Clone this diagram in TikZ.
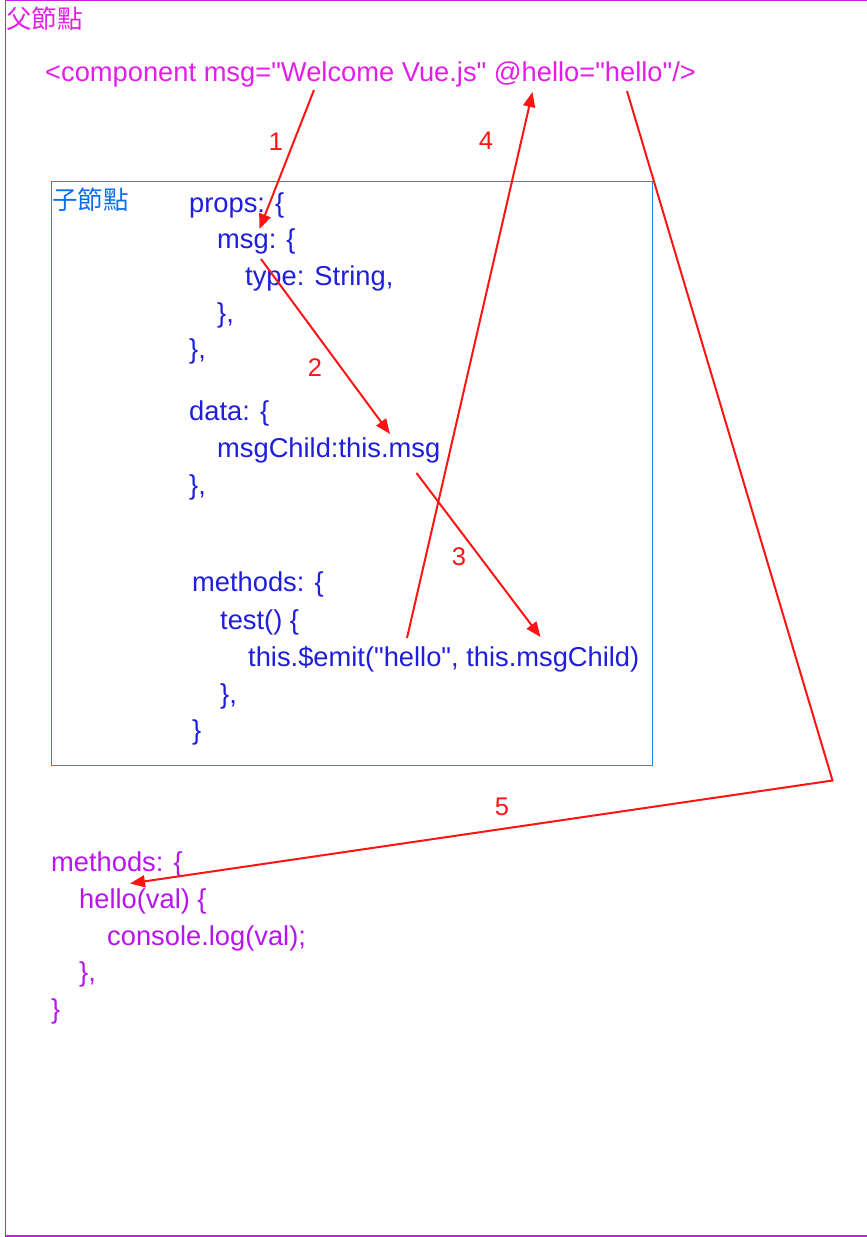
\documentclass[tikz,border=0pt]{standalone}
\usepackage{fontspec}
\setmainfont{Liberation Sans}
\newfontfamily\cjk{Noto Sans CJK TC}
\usetikzlibrary{arrows.meta}

\definecolor{framepurple}{RGB}{200,30,225}
\definecolor{parentpink}{RGB}{228,30,232}
\definecolor{methodpurple}{RGB}{185,20,240}
\definecolor{childblue}{RGB}{30,30,220}
\definecolor{boxblue}{RGB}{20,140,255}
\definecolor{labelblue}{RGB}{15,110,240}
\definecolor{arrowred}{RGB}{255,20,20}

\begin{document}
\begin{tikzpicture}[x=1pt,y=-1pt,
    code/.style={anchor=west,inner sep=0pt,font=\fontsize{27.3}{30}\selectfont,text height=19pt,text depth=6pt},
    parentcode/.style={code,text=parentpink},
    childcode/.style={code,text=childblue},
    methodcode/.style={code,text=methodpurple},
    cjklabel/.style={anchor=west,inner sep=0pt,font=\cjk\fontsize{25.5}{28}\selectfont},
    redarrow/.style={draw=arrowred,line width=2pt,-{Triangle[length=15pt,width=12pt]}},
    numlabel/.style={text=arrowred,inner sep=0pt,font=\fontsize{25.5}{28}\selectfont}]
        \useasboundingbox (0,0) rectangle (867,1237);
        \clip (0,0) rectangle (867,1237);
        \draw [framepurple, line width=1.5pt] (5.5,0.5) rectangle (872,1236);
        \node [cjklabel, text=parentpink] (parent) at (6,19) {父節點};

        \node [parentcode] (component) at (45,75) {<component msg=\textquotedbl Welcome Vue.js\textquotedbl{} @hello=\textquotedbl hello\textquotedbl/>};

        % child component
        \draw [boxblue, line width=1pt] (51.5,181.5) rectangle (652.5,765.5);
        \node [cjklabel, text=labelblue] (child) at (52,200) {子節點};

        \node [childcode] (props) at (189,206) {props: \{};
        \node [childcode] (msg) at (217,242) {msg: \{};
        \node [childcode] (type) at (245,279) {type: String,};
        \node [childcode] (msgend) at (217,316) {\},};
        \node [childcode] (propsend) at (189,352) {\},};
        \node [childcode] (data) at (189,414) {data: \{};
        \node [childcode] (msgchild) at (217,451) {msgChild:this.msg};
        \node [childcode] (dataend) at (189,488) {\},};
        \node [childcode] (cmethods) at (192,585) {methods: \{};
        \node [childcode] (test) at (220,623) {test() \{};
        \node [childcode] (emit) at (248,660) {this.\$emit(\textquotedbl hello\textquotedbl, this.msgChild)};
        \node [childcode] (testend) at (220,697) {\},};
        \node [childcode] (cmethodsend) at (192,733) {\}};

        % parent methods
        \node [methodcode] (pmethods) at (51,865) {methods: \{};
        \node [methodcode] (hello) at (79,902) {hello(val) \{};
        \node [methodcode] (console) at (107,939) {console.log(val);};
        \node [methodcode] (helloend) at (79,975) {\},};
        \node [methodcode] (pmethodsend) at (51,1012) {\}};

        % arrows
        \coordinate (s1) at (314,90);   \coordinate (e1) at (259.5,229);
        \coordinate (s2) at (261,259);  \coordinate (e2) at (390,434);
        \coordinate (s3) at (416.5,473);\coordinate (e3) at (540.5,637);
        \coordinate (s4) at (407,638);  \coordinate (e4) at (532.5,92);
        \coordinate (s5) at (627,91);   \coordinate (k5) at (832.5,780.5);
        \coordinate (e5) at (130,883.5);

        \draw [redarrow] (s1) -- (e1);
        \draw [redarrow] (s2) -- (e2);
        \draw [redarrow] (s3) -- (e3);
        \draw [redarrow] (s4) -- (e4);
        \draw [redarrow] (s5) -- (k5) -- (e5);

        \node [numlabel] (n1) at (276,142) {1};
        \node [numlabel] (n2) at (315,368) {2};
        \node [numlabel] (n3) at (459,557) {3};
        \node [numlabel] (n4) at (486,141) {4};
        \node [numlabel] (n5) at (502,807) {5};
\end{tikzpicture}
\end{document}
